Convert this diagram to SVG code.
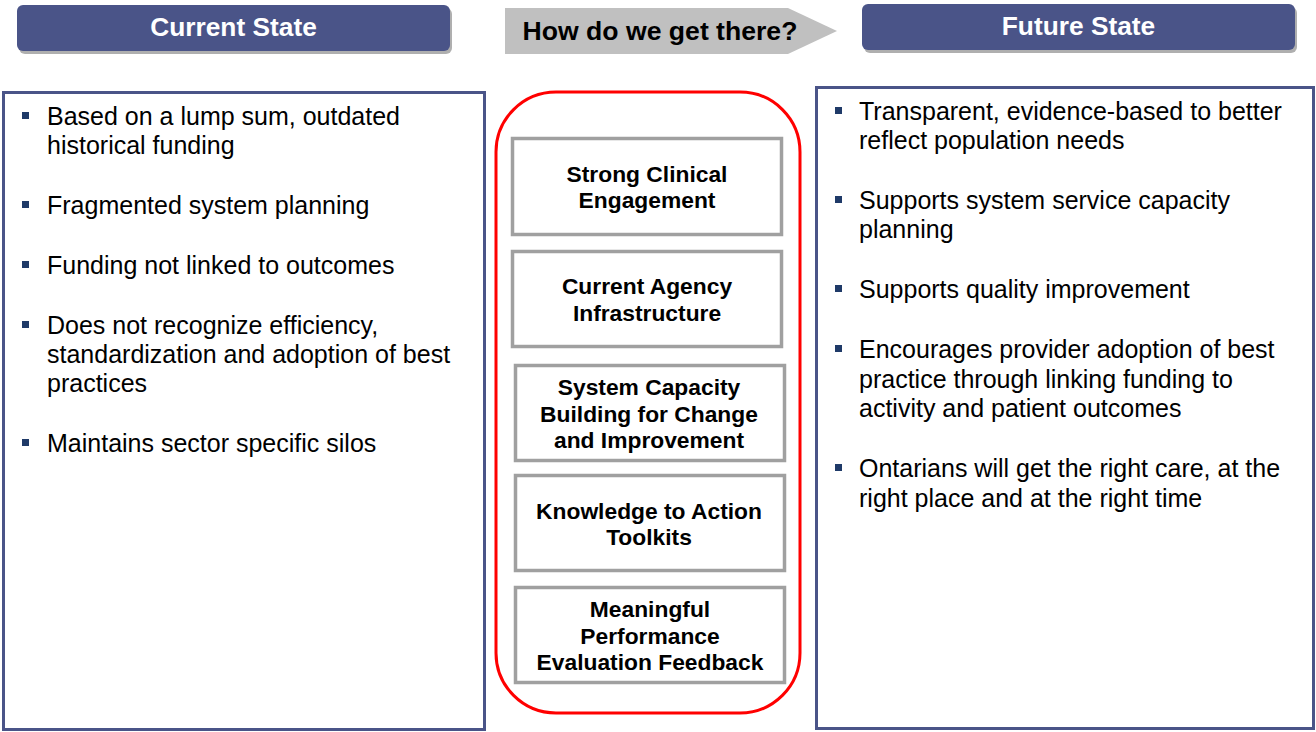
<svg xmlns="http://www.w3.org/2000/svg" width="1316" height="732" viewBox="0 0 1316 732">
<defs>
<style>
.hdr{fill:#4a5488;}
.shd{fill:#7a7a7a;opacity:0.6;}
.hdrtxt{font-family:"Liberation Sans",Arial,sans-serif;font-weight:bold;font-size:26.3px;fill:#ffffff;text-anchor:middle;}
.panel{fill:#ffffff;stroke:#4a5488;stroke-width:3;}
.body{font-family:"Liberation Sans",Arial,sans-serif;font-size:25px;fill:#000000;}
.bul{fill:#1f3a68;}
.box{fill:#ffffff;stroke:#a0a0a0;stroke-width:3.5;}
.boxtxt{font-family:"Liberation Sans",Arial,sans-serif;font-weight:bold;font-size:22.8px;fill:#000000;text-anchor:middle;}
</style>
</defs>
<rect width="1316" height="732" fill="#ffffff"/>

<g id="current-header">
<rect class="shd" x="19" y="8" width="433" height="46" rx="6"/>
<rect class="hdr" x="17" y="5" width="433" height="46" rx="6"/>
<text class="hdrtxt" x="233.5" y="36">Current State</text>
</g>

<g id="how-arrow">
<polygon points="505,8 788,8 837,31 788,54 505,54" fill="#c0c0c0"/>
<text x="660" y="40" font-family="Liberation Sans, Arial, sans-serif" font-weight="bold" font-size="26.6px" fill="#000000" text-anchor="middle">How do we get there?</text>
</g>

<g id="future-header">
<rect class="shd" x="864" y="7" width="433" height="46" rx="6"/>
<rect class="hdr" x="862" y="4" width="433" height="46" rx="6"/>
<text class="hdrtxt" x="1078.5" y="35">Future State</text>
</g>

<g id="current-panel">
<rect class="panel" x="3.5" y="92.5" width="481" height="637"/>
<rect class="bul" x="22" y="112" width="7" height="7"/>
<text class="body" x="47" y="125">Based on a lump sum, outdated</text>
<text class="body" x="47" y="154">historical funding</text>
<rect class="bul" x="22" y="201" width="7" height="7"/>
<text class="body" x="47" y="214">Fragmented system planning</text>
<rect class="bul" x="22" y="261" width="7" height="7"/>
<text class="body" x="47" y="274">Funding not linked to outcomes</text>
<rect class="bul" x="22" y="321" width="7" height="7"/>
<text class="body" x="47" y="334">Does not recognize efficiency,</text>
<text class="body" x="47" y="363">standardization and adoption of best</text>
<text class="body" x="47" y="392">practices</text>
<rect class="bul" x="22" y="439" width="7" height="7"/>
<text class="body" x="47" y="452">Maintains sector specific silos</text>
</g>

<g id="future-panel">
<rect class="panel" x="816.5" y="87.5" width="497" height="641"/>
<rect class="bul" x="835" y="107" width="7" height="7"/>
<text class="body" x="859" y="120">Transparent, evidence-based to better</text>
<text class="body" x="859" y="149">reflect population needs</text>
<rect class="bul" x="835" y="196" width="7" height="7"/>
<text class="body" x="859" y="209">Supports system service capacity</text>
<text class="body" x="859" y="238">planning</text>
<rect class="bul" x="835" y="285" width="7" height="7"/>
<text class="body" x="859" y="298">Supports quality improvement</text>
<rect class="bul" x="835" y="345" width="7" height="7"/>
<text class="body" x="859" y="358">Encourages provider adoption of best</text>
<text class="body" x="859" y="388">practice through linking funding to</text>
<text class="body" x="859" y="417">activity and patient outcomes</text>
<rect class="bul" x="835" y="464" width="7" height="7"/>
<text class="body" x="859" y="477">Ontarians will get the right care, at the</text>
<text class="body" x="859" y="507">right place and at the right time</text>
</g>

<g id="enablers-frame">
<rect x="496" y="92" width="304" height="621" rx="60" fill="none" stroke="#ff0000" stroke-width="3"/>
</g>

<g id="box-clinical">
<rect class="box" x="512.5" y="138.5" width="269" height="96"/>
<text class="boxtxt" x="647" y="182">Strong Clinical</text>
<text class="boxtxt" x="647" y="208">Engagement</text>
</g>

<g id="box-agency">
<rect class="box" x="512.5" y="251.5" width="269" height="95"/>
<text class="boxtxt" x="647" y="294">Current Agency</text>
<text class="boxtxt" x="647" y="321">Infrastructure</text>
</g>

<g id="box-capacity">
<rect class="box" x="515.5" y="365.5" width="269" height="95"/>
<text class="boxtxt" x="649" y="395">System Capacity</text>
<text class="boxtxt" x="649" y="422">Building for Change</text>
<text class="boxtxt" x="649" y="448">and Improvement</text>
</g>

<g id="box-knowledge">
<rect class="box" x="515.5" y="475.5" width="269" height="95"/>
<text class="boxtxt" x="649" y="519">Knowledge to Action</text>
<text class="boxtxt" x="649" y="545">Toolkits</text>
</g>

<g id="box-performance">
<rect class="box" x="515.5" y="587.5" width="269" height="95"/>
<text class="boxtxt" x="650" y="617">Meaningful</text>
<text class="boxtxt" x="650" y="644">Performance</text>
<text class="boxtxt" x="650" y="670">Evaluation Feedback</text>
</g>

<g id="connectors"></g>
</svg>
